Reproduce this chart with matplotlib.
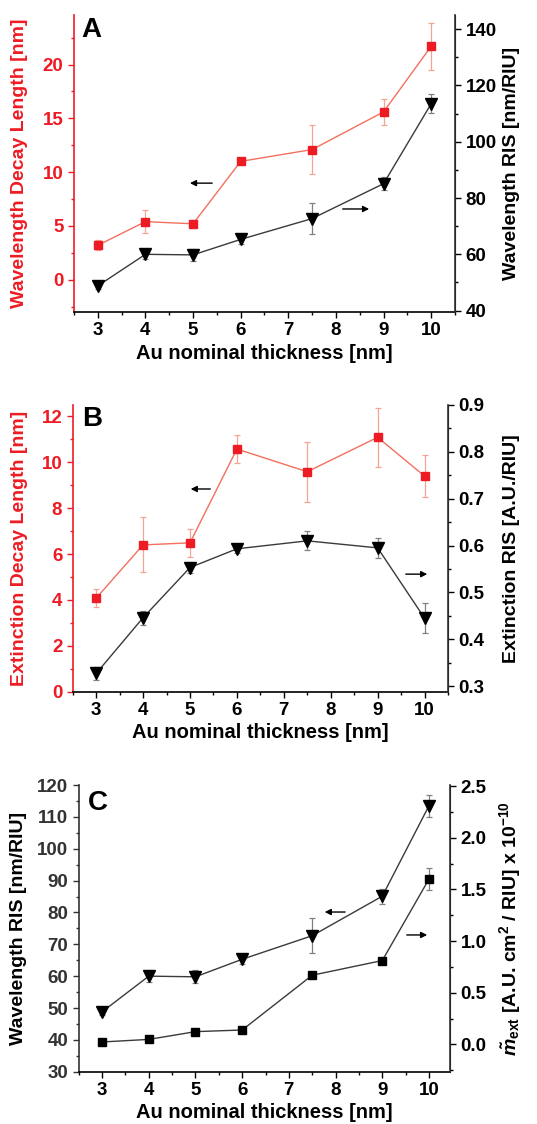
import matplotlib
matplotlib.use('Agg')
import matplotlib.pyplot as plt
from matplotlib.ticker import MultipleLocator

plt.rcParams['font.family'] = ['Liberation Sans', 'DejaVu Sans']
plt.rcParams['font.weight'] = 'bold'
plt.rcParams['axes.labelweight'] = 'bold'
plt.rcParams['mathtext.fontset'] = 'custom'
plt.rcParams['mathtext.rm'] = 'Liberation Sans:bold'
plt.rcParams['mathtext.it'] = 'Liberation Sans:italic:bold'
plt.rcParams['mathtext.bf'] = 'Liberation Sans:bold'

# espessuras de Au
thick = [3, 4, 5, 6, 7.5, 9, 10]

# painel A
wl_decay = [3.2, 5.4, 5.2, 11.0, 12.1, 15.6, 21.7]
wl_decay_err = [0.45, 1.1, 0.25, 0.2, 2.3, 1.2, 2.2]
wl_ris = [48.8, 60.0, 59.8, 65.3, 72.7, 85.1, 113.5]
wl_ris_err = [1.0, 1.8, 2.0, 1.5, 5.5, 2.4, 3.4]

# painel B
ext_decay = [4.08, 6.4, 6.49, 10.58, 9.59, 11.09, 9.4]
ext_decay_err = [0.4, 1.2, 0.6, 0.6, 1.3, 1.3, 0.9]
ext_ris = [0.327, 0.446, 0.553, 0.593, 0.61, 0.595, 0.445]
ext_ris_err = [0.014, 0.015, 0.012, 0.01, 0.02, 0.022, 0.032]

# painel C
m_ext = [0.023, 0.048, 0.123, 0.139, 0.669, 0.811, 1.60]
m_ext_err = [0.0, 0.0, 0.0, 0.0, 0.0, 0.0, 0.11]

RED = '#ed1c24'
RED_LINE = '#f2705e'
RED_ERR = '#f5a493'
BLK_LINE = '#3a3a3a'
BLK_ERR = '#808080'

fig = plt.figure(figsize=(5.37, 11.24), dpi=100)


def style_axes(ax, ax2, left_color):
    for a in (ax, ax2):
        a.spines['top'].set_visible(False)
        a.tick_params(direction='out', labelsize=13.5, width=1, length=4)
        a.tick_params(which='minor', direction='out', width=1, length=2.5)
    ax.spines['left'].set_color(left_color)
    ax.spines['left'].set_linewidth(1.2)
    ax.tick_params(axis='y', which='both', colors=left_color)
    ax2.spines['right'].set_color('#333333')
    ax2.spines['right'].set_linewidth(1.2)
    ax.spines['bottom'].set_linewidth(1.2)
    ax2.spines['left'].set_visible(False)
    ax2.spines['bottom'].set_visible(False)
    ax.set_xlim(2.5, 10.5)
    ax.set_xticks([3, 4, 5, 6, 7, 8, 9, 10])
    ax.xaxis.set_minor_locator(MultipleLocator(0.5))
    ax.set_xlabel('Au nominal thickness [nm]', fontsize=14.5, labelpad=3)


def arrow(ax, x0, x1, y):
    ax.annotate('', xy=(x1, y), xytext=(x0, y), xycoords='axes fraction',
                arrowprops=dict(arrowstyle='-|>', color='black', lw=1,
                                mutation_scale=9))


sq = dict(marker='s', markersize=6, capsize=2.5, elinewidth=0.9, capthick=0.9)
tri = dict(marker='v', markersize=8, capsize=2.5, elinewidth=0.9, capthick=0.9)

# ---------------- A
ax = fig.add_axes([0.1378, 0.7224, 0.7095, 0.2642])
ax2 = ax.twinx()
style_axes(ax, ax2, RED)
ax.errorbar(thick, wl_decay, yerr=wl_decay_err, color=RED_LINE, lw=1,
            mfc=RED, mec=RED, ecolor=RED_ERR, zorder=3, **sq)
ax2.errorbar(thick, wl_ris, yerr=wl_ris_err, color=BLK_LINE, lw=1,
             mfc='black', mec='black', ecolor=BLK_ERR, **tri)
ax.set_ylim(-3, 24.6)
ax.yaxis.set_major_locator(MultipleLocator(5))
ax.yaxis.set_minor_locator(MultipleLocator(2.5))
ax2.set_ylim(39.5, 145)
ax2.yaxis.set_major_locator(MultipleLocator(20))
ax2.yaxis.set_minor_locator(MultipleLocator(10))
ax.set_ylabel('Wavelength Decay Length [nm]', color=RED, fontsize=14)
ax2.set_ylabel('Wavelength RIS [nm/RIU]', fontsize=14)
ax.yaxis.set_label_coords(-0.121, 0.5)
ax2.yaxis.set_label_coords(1.126, 0.5)
ax.text(0.02, 0.95, 'A', transform=ax.transAxes, fontsize=20,
        fontweight='bold', va='center', ha='left')
arrow(ax, 0.370, 0.297, 0.434)
arrow(ax, 0.698, 0.782, 0.347)

# ---------------- B
ax = fig.add_axes([0.1354, 0.3846, 0.6989, 0.2551])
ax2 = ax.twinx()
style_axes(ax, ax2, RED)
ax.errorbar(thick, ext_decay, yerr=ext_decay_err, color=RED_LINE, lw=1,
            mfc=RED, mec=RED, ecolor=RED_ERR, zorder=3, **sq)
ax2.errorbar(thick, ext_ris, yerr=ext_ris_err, color=BLK_LINE, lw=1,
             mfc='black', mec='black', ecolor=BLK_ERR, **tri)
ax.set_ylim(0, 12.5)
ax.yaxis.set_major_locator(MultipleLocator(2))
ax.yaxis.set_minor_locator(MultipleLocator(1))
ax2.set_ylim(0.288, 0.9)
ax2.yaxis.set_major_locator(MultipleLocator(0.1))
ax2.yaxis.set_minor_locator(MultipleLocator(0.05))
ax.set_ylabel('Extinction Decay Length [nm]', color=RED, fontsize=14)
ax2.set_ylabel('Extinction RIS [A.U./RIU]', fontsize=14)
ax.yaxis.set_label_coords(-0.119, 0.5)
ax2.yaxis.set_label_coords(1.147, 0.5)
ax.text(0.025, 0.951, 'B', transform=ax.transAxes, fontsize=20,
        fontweight='bold', va='center', ha='left')
arrow(ax, 0.374, 0.307, 0.707)
arrow(ax, 0.880, 0.952, 0.410)

# ---------------- C
ax = fig.add_axes([0.1466, 0.0465, 0.6914, 0.2551])
ax2 = ax.twinx()
style_axes(ax, ax2, '#333333')
ax.errorbar(thick, wl_ris, yerr=wl_ris_err, color=BLK_LINE, lw=1,
            mfc='black', mec='black', ecolor=BLK_ERR, **tri)
ax2.errorbar(thick, m_ext, yerr=m_ext_err, color=BLK_LINE, lw=1,
             mfc='black', mec='black', ecolor=BLK_ERR, **sq)
ax.set_xlim(2.5, 10.45)
ax.set_ylim(30, 120)
ax.yaxis.set_major_locator(MultipleLocator(10))
ax.yaxis.set_minor_locator(MultipleLocator(5))
ax2.set_ylim(-0.265, 2.51)
ax2.yaxis.set_major_locator(MultipleLocator(0.5))
ax2.yaxis.set_minor_locator(MultipleLocator(0.25))
ax2.yaxis.set_major_formatter(plt.FormatStrFormatter('%.1f'))
ax.set_ylabel('Wavelength RIS [nm/RIU]', fontsize=14)
ax2.set_ylabel(r'$\tilde{m}_{\mathrm{ext}}$ [A.U. cm$^{2}$ / RIU] x 10$^{-10}$',
               fontsize=14)
ax.yaxis.set_label_coords(-0.139, 0.5)
ax2.yaxis.set_label_coords(1.127, 0.5)
ax.text(0.025, 0.937, 'C', transform=ax.transAxes, fontsize=20,
        fontweight='bold', va='center', ha='left')
arrow(ax, 0.725, 0.655, 0.557)
arrow(ax, 0.876, 0.946, 0.477)

fig.savefig('out.png', dpi=100)
plt.close()
